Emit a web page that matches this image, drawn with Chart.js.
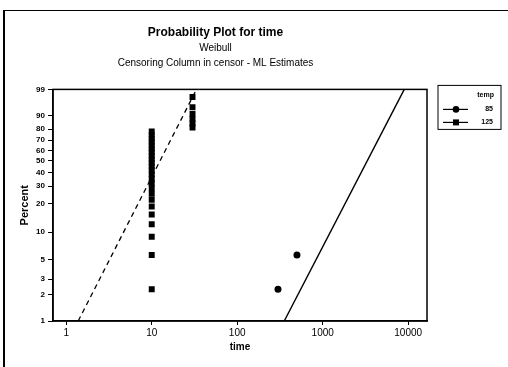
<!DOCTYPE html>
<html>
<head>
<meta charset="utf-8">
<script src="https://cdn.jsdelivr.net/npm/chart.js@4.4.0/dist/chart.umd.min.js"></script>
<style>
  body { margin: 0; background: #fff; }
  #frame { position: absolute; left: 3px; top: 10px; width: 505px; height: 357px;
           border-left: 2px solid #000; border-top: 1.5px solid #000; }
  canvas { position: absolute; left: 0; top: 0; }
</style>
</head>
<body>
<div id="frame"></div>
<canvas id="myChart" width="508" height="367"></canvas>
<script>
const FONT = '"Liberation Sans", Arial, sans-serif';

const legendTitle = 'temp';
const tempLevels = ['85', '125'];

// failures, temp 85
const time85 = [300, 500];
const percent85 = [2.3, 5.6];

// failures, temp 125
const time125 = [10, 10, 10, 10, 10, 10, 10, 10, 10, 10, 10, 10,
  10, 10, 10, 10, 10, 10, 10, 10, 10, 10, 10, 10,
  30, 30, 30, 30, 30, 30];
const percent125 = [2.3, 5.6, 8.9, 12.2, 15.5, 18.8, 22.0, 25.3, 28.6, 31.9, 35.2, 38.5,
  41.8, 45.1, 48.4, 51.6, 54.9, 58.2, 61.5, 64.8, 68.1, 71.4, 74.7, 78.0,
  81.3, 84.5, 87.8, 91.1, 94.4, 97.7];

// fitted lines (1% and 99% ends)
const fitPercent = [1, 99];
const fitTime85 = [355, 9000];
const fitTime125 = [1.38, 33.4];

const percentTicks = [1, 2, 3, 5, 10, 20, 30, 40, 50, 60, 70, 80, 90, 99];
const timeTicks = [1, 10, 100, 1000, 10000];

// weibull probability paper
const weibullY = p => Math.log(-Math.log(1 - p / 100));

const toPoints = (xs, ps) => xs.map((x, i) => ({ x: x, y: weibullY(ps[i]) }));

const plotFrame = {
  id: 'plotFrame',
  afterDraw(chart) {
    const { ctx, chartArea: a } = chart;
    ctx.save();
    ctx.strokeStyle = '#000';
    ctx.lineWidth = 1.5;
    ctx.strokeRect(a.left, a.top, a.right - a.left, a.bottom - a.top);
    ctx.restore();
  }
};

const boxLegend = {
  id: 'boxLegend',
  afterDraw(chart) {
    const { ctx, chartArea: a } = chart;
    const x = a.right + 11, y = a.top - 4, w = 63, h = 44;
    ctx.save();
    ctx.strokeStyle = '#000';
    ctx.fillStyle = '#000';
    ctx.lineWidth = 1;
    ctx.strokeRect(x, y, w, h);
    ctx.font = 'bold 7px ' + FONT;
    ctx.textAlign = 'right';
    ctx.textBaseline = 'middle';
    ctx.fillText(legendTitle, x + w - 7, y + 10);
    chart.data.datasets.filter(d => d.inLegend).forEach((ds, i) => {
      const rowY = y + 24 + i * 13;
      ctx.lineWidth = 1.2;
      ctx.beginPath();
      ctx.moveTo(x + 5, rowY);
      ctx.lineTo(x + 30, rowY);
      ctx.stroke();
      if (ds.pointStyle === 'rect') {
        ctx.fillRect(x + 15, rowY - 3, 6, 6);
      } else {
        ctx.beginPath();
        ctx.arc(x + 18, rowY, 3.3, 0, Math.PI * 2);
        ctx.fill();
      }
      ctx.fillText(ds.label, x + w - 8, rowY);
    });
    ctx.restore();
  }
};

const ctx = document.getElementById('myChart').getContext('2d');

const myChart = new Chart(ctx, {
  type: 'scatter',
  data: {
    datasets: [
      {
        label: tempLevels[0],
        inLegend: true,
        data: toPoints(time85, percent85),
        pointStyle: 'circle',
        pointRadius: 3.5,
        backgroundColor: '#000',
        borderColor: '#000',
        borderWidth: 0
      },
      {
        label: tempLevels[1],
        inLegend: true,
        data: toPoints(time125, percent125),
        pointStyle: 'rect',
        pointRadius: 4.2,
        backgroundColor: '#000',
        borderColor: '#000',
        borderWidth: 0
      },
      {
        label: 'fit ' + tempLevels[0],
        type: 'line',
        data: toPoints(fitTime85, fitPercent),
        borderColor: '#000',
        borderWidth: 1.4,
        pointRadius: 0,
        fill: false
      },
      {
        label: 'fit ' + tempLevels[1],
        type: 'line',
        data: toPoints(fitTime125, fitPercent),
        borderColor: '#000',
        borderWidth: 1.3,
        borderDash: [5, 4],
        pointRadius: 0,
        fill: false
      }
    ]
  },
  options: {
    responsive: false,
    animation: false,
    layout: { padding: { left: 4, right: 81, top: 0, bottom: 14 } },
    plugins: {
      legend: { display: false },
      tooltip: { enabled: false },
      title: {
        display: true,
        text: 'Probability Plot for time',
        color: '#000',
        font: { family: FONT, size: 12, weight: 'bold' },
        padding: { top: 25, bottom: 1 }
      },
      subtitle: {
        display: true,
        text: ['Weibull', 'Censoring Column in censor - ML Estimates'],
        color: '#000',
        font: { family: FONT, size: 10, lineHeight: 1.5 },
        padding: { top: 0, bottom: 19 }
      }
    },
    scales: {
      x: {
        type: 'logarithmic',
        min: 0.745,
        max: 16600,
        afterBuildTicks: scale => { scale.ticks = timeTicks.map(v => ({ value: v })); },
        ticks: {
          autoSkip: false,
          maxRotation: 0,
          padding: 2,
          color: '#000',
          font: { family: FONT, size: 10 },
          callback: value => String(value)
        },
        grid: { drawOnChartArea: false, tickLength: 4, color: '#000' },
        border: { color: '#000', width: 1.5 },
        title: {
          display: true,
          text: 'time',
          color: '#000',
          font: { family: FONT, size: 10, weight: 'bold' },
          padding: { top: 0, bottom: 0 }
        }
      },
      y: {
        type: 'linear',
        min: weibullY(1),
        max: weibullY(99),
        afterBuildTicks: scale => { scale.ticks = percentTicks.map(p => ({ value: weibullY(p) })); },
        afterFit: scale => { scale.width = 49; },
        ticks: {
          autoSkip: false,
          padding: 3,
          color: '#000',
          font: { family: FONT, size: 8, weight: 'bold' },
          callback: (value, index) => percentTicks[index]
        },
        grid: { drawOnChartArea: false, tickLength: 5, color: '#000' },
        border: { color: '#000', width: 1.5 },
        title: {
          display: true,
          text: 'Percent',
          color: '#000',
          font: { family: FONT, size: 11, weight: 'bold' },
          padding: { top: 14, bottom: 0 }
        }
      }
    }
  },
  plugins: [plotFrame, boxLegend]
});
</script>
</body>
</html>
